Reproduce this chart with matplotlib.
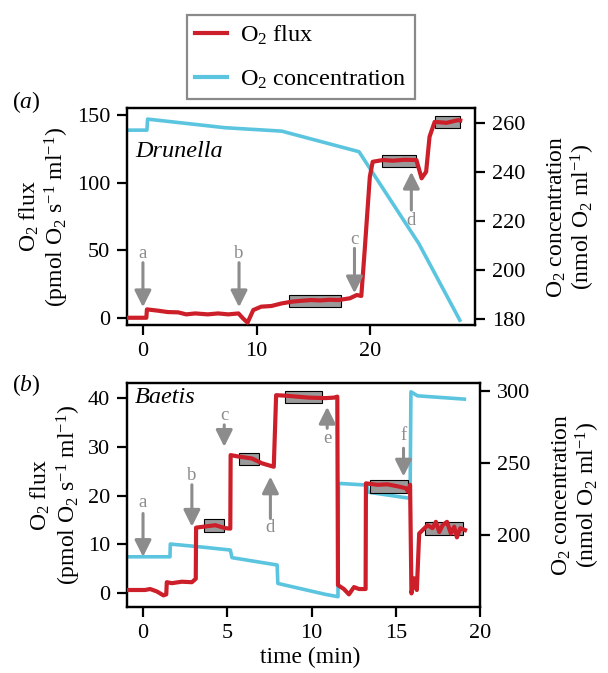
import numpy as np
import matplotlib.pyplot as plt
from matplotlib.patches import Rectangle
from matplotlib.lines import Line2D

plt.rcParams['font.family'] = ['Liberation Serif', 'DejaVu Serif']
plt.rcParams['mathtext.fontset'] = 'custom'
plt.rcParams['mathtext.rm'] = 'Liberation Serif'
plt.rcParams['mathtext.it'] = 'Liberation Serif:italic'

RED = '#CC1F2A'
BLUE = '#5BC5DF'
GRAY = '#8C8C8C'
FS_TICK = 16
FS_LAB = 17
FS_LEG = 17.5

# ---- panel (a) Drunella ----
a_flux_t = [-1.3, 0.3, 0.35, 1.35, 2.2, 3.1, 3.8, 4.6, 5.7, 6.6, 7.5, 8.4, 8.8, 9.2, 9.7,
            10.4, 11.3, 12.2, 13.1, 14.0, 14.8, 15.6, 16.4, 17.2, 18.2, 18.8, 19.2, 19.5,
            19.95, 20.2, 21.1, 22.0, 23.0, 24.05, 24.5, 24.9, 25.2, 25.65, 26.7, 27.7, 27.9]
a_flux = [0.2, 0.2, 6.4, 5.4, 4.4, 4.2, 2.7, 3.4, 2.7, 3.4, 2.7, 3.4, -0.3, -3.4, 5.9,
          8.4, 8.9, 10.8, 12.1, 12.8, 13.3, 13.0, 13.5, 13.3, 14.6, 17.0, 16.3, 50.3,
          104.4, 115.5, 116.8, 116.3, 117.0, 116.8, 103.3, 108.1, 134.0, 145.0, 144.3, 146.3, 146.0]
a_conc_t = [-1.3, 0.35, 0.41, 7.2, 12.2, 19.0, 24.25, 27.86]
a_conc = [257.1, 257.1, 261.6, 258.1, 256.7, 248.3, 210.9, 179.6]
# boxes: x0, x1, y0, y1
a_boxes = [(12.8, 17.45, 7.9, 17.0), (21.06, 24.05, 111.4, 120.5), (25.7, 27.86, 140.2, 149.3)]
# arrows: letter, x, text baseline, tail, tip
a_arrows = [('a', 0.0, 44.1, 40.9, 8.0), ('b', 8.45, 44.1, 40.9, 8.0),
            ('c', 18.6, 54.7, 51.5, 18.3), ('d', 23.6, 68.7, 79.8, 108.1)]

# ---- panel (b) Baetis ----
b_flux_t = [-0.87, 0.12, 0.42, 0.82, 1.21, 1.38, 1.41, 1.71, 2.3, 2.9,
            3.13, 3.15, 3.59, 4.29, 4.88, 5.18, 5.2, 5.67, 6.47, 7.07,
            7.76, 7.9, 8.45, 9.84, 10.83, 11.33, 11.53, 11.57, 11.92, 12.22,
            12.52, 12.82, 13.21, 13.23, 13.91, 14.5, 15.1, 15.6, 15.73, 15.85,
            15.93, 16.09, 16.25, 16.39, 16.59, 16.89, 17.18, 17.38, 17.58, 17.78,
            18.04, 18.27, 18.47, 18.63, 18.83, 19.11]
b_flux = [0.6, 0.6, 0.8, 0.3, -0.5, -0.3, 2.2, 2.0, 2.3, 2.2,
          2.9, 13.4, 13.6, 13.9, 13.3, 13.2, 28.3, 28.0, 27.6, 26.6,
          25.9, 40.6, 40.5, 40.1, 40.0, 40.1, 40.3, 1.6, 0.8, -0.3,
          1.2, 0.8, 0.8, 22.5, 22.2, 22.3, 21.9, 21.5, 20.8, 22.2,
          -0.1, 3.0, 0.6, 12.2, 12.9, 13.9, 13.3, 14.6, 12.5, 13.9,
          14.6, 12.2, 13.6, 11.4, 13.3, 12.9]
b_conc_t = [-0.87, 1.6, 1.62, 3.3, 5.18, 5.28, 7.96, 8.0, 10.83, 11.57, 11.6,
            13.3, 13.35, 15.85, 15.9, 16.29, 19.07]
b_conc = [184.9, 184.9, 193.75, 191.9, 189.6, 184.3, 179.2, 166.4, 158.8, 157.2, 235.9,
          234.7, 229.8, 225.5, 299.5, 296.7, 294.4]
b_boxes = [(3.59, 4.78, 12.6, 15.2), (5.67, 6.86, 26.3, 28.8), (8.45, 10.64, 38.9, 41.5),
           (13.47, 15.7, 20.6, 23.2), (16.73, 18.97, 11.9, 14.5)]
b_arrows = [('a', 0.0, 17.7, 16.3, 7.4), ('b', 2.9, 23.2, 22.2, 13.6),
            ('c', 4.82, 35.6, 34.5, 30.0), ('d', 7.56, 12.6, 15.3, 23.9),
            ('e', 10.93, 30.7, 33.8, 38.2), ('f', 15.46, 31.4, 29.7, 23.9)]


def style_axes(ax):
    for s in ax.spines.values():
        s.set_linewidth(1.6)
    ax.tick_params(direction='out', length=7, width=1.6, labelsize=FS_TICK, pad=5)


def draw_panel(fig, rect, t, flux, ct, conc, boxes, arrows, xlim, ylim, y2lim,
               xticks, yticks, y2ticks, name, name_pos):
    ax = fig.add_axes(rect)
    ax2 = ax.twinx()
    ax.set_zorder(ax2.get_zorder() + 1)
    ax.patch.set_visible(False)

    ax2.plot(ct, conc, color=BLUE, lw=2.6, solid_joinstyle='round')
    ax.plot(t, flux, color=RED, lw=3.0, zorder=3, solid_joinstyle='round')
    for x0, x1, y0, y1 in boxes:
        ax.add_patch(Rectangle((x0, y0), x1 - x0, y1 - y0, facecolor='#9a9a9a',
                               edgecolor='black', lw=0.8, zorder=2))
    for lab, x, ty, tail, tip in arrows:
        ax.annotate('', xy=(x, tip), xytext=(x, tail),
                    arrowprops=dict(arrowstyle='-|>,head_length=1.0,head_width=0.5',
                                    color=GRAY, lw=2.2, shrinkA=0, shrinkB=0,
                                    mutation_scale=10), zorder=4)
        ax.text(x, ty, lab, ha='center', va='baseline', color=GRAY, fontsize=13.5)

    ax.set_xlim(*xlim)
    ax.set_ylim(*ylim)
    ax2.set_ylim(*y2lim)
    ax.set_xticks(xticks)
    ax.set_yticks(yticks)
    ax2.set_yticks(y2ticks)
    style_axes(ax)
    style_axes(ax2)
    ax.set_ylabel('O$_2$ flux\n(pmol O$_2$ s$^{-1}$ ml$^{-1}$)', fontsize=FS_LAB,
                  labelpad=4, linespacing=1.1)
    ax2.set_ylabel('O$_2$ concentration\n(nmol O$_2$ ml$^{-1}$)', fontsize=FS_LAB,
                   rotation=90, labelpad=15, linespacing=1.05)
    ax.text(name_pos[0], name_pos[1], name, transform=ax.transAxes, style='italic',
            fontsize=FS_LEG, va='center', ha='left')
    return ax


fig = plt.figure(figsize=(6.08, 6.73), dpi=100)

draw_panel(fig, [0.2089, 0.517, 0.5724, 0.3224], a_flux_t, a_flux, a_conc_t, a_conc,
           a_boxes, a_arrows, (-1.4, 29.2), (-5.2, 155.2), (177.6, 266.1),
           [0, 10, 20], [0, 50, 100, 150], [180, 200, 220, 240, 260],
           'Drunella', (0.023, 0.80))
axb = draw_panel(fig, [0.2089, 0.098, 0.5806, 0.3329], b_flux_t, b_flux, b_conc_t, b_conc,
                 b_boxes, b_arrows, (-0.95, 20.0), (-2.9, 43.1), (150.0, 305.6),
                 [0, 5, 10, 15, 20], [0, 10, 20, 30, 40], [200, 250, 300],
                 'Baetis', (0.023, 0.935))
axb.set_xlabel('time (min)', fontsize=FS_LAB)
axb.xaxis.set_label_coords(0.52, -0.18)

fig.text(12 / 608, 1 - 102 / 673, r'($\mathit{a}$)', fontsize=FS_LAB, va='center', ha='left')
fig.text(12 / 608, 1 - 385 / 673, r'($\mathit{b}$)', fontsize=FS_LAB, va='center', ha='left')

handles = [Line2D([], [], color=RED, lw=3), Line2D([], [], color=BLUE, lw=3)]
leg = fig.legend(handles, ['O$_2$ flux', 'O$_2$ concentration'], loc='center',
                 bbox_to_anchor=(301 / 608, 1 - 57 / 673), fontsize=FS_LEG, fancybox=False,
                 edgecolor='#8a8a8a', handlelength=1.3, handletextpad=0.55,
                 borderpad=0.35, labelspacing=0.9, framealpha=1)
leg.get_frame().set_linewidth(1.6)

fig.savefig('out.png', dpi=100)
